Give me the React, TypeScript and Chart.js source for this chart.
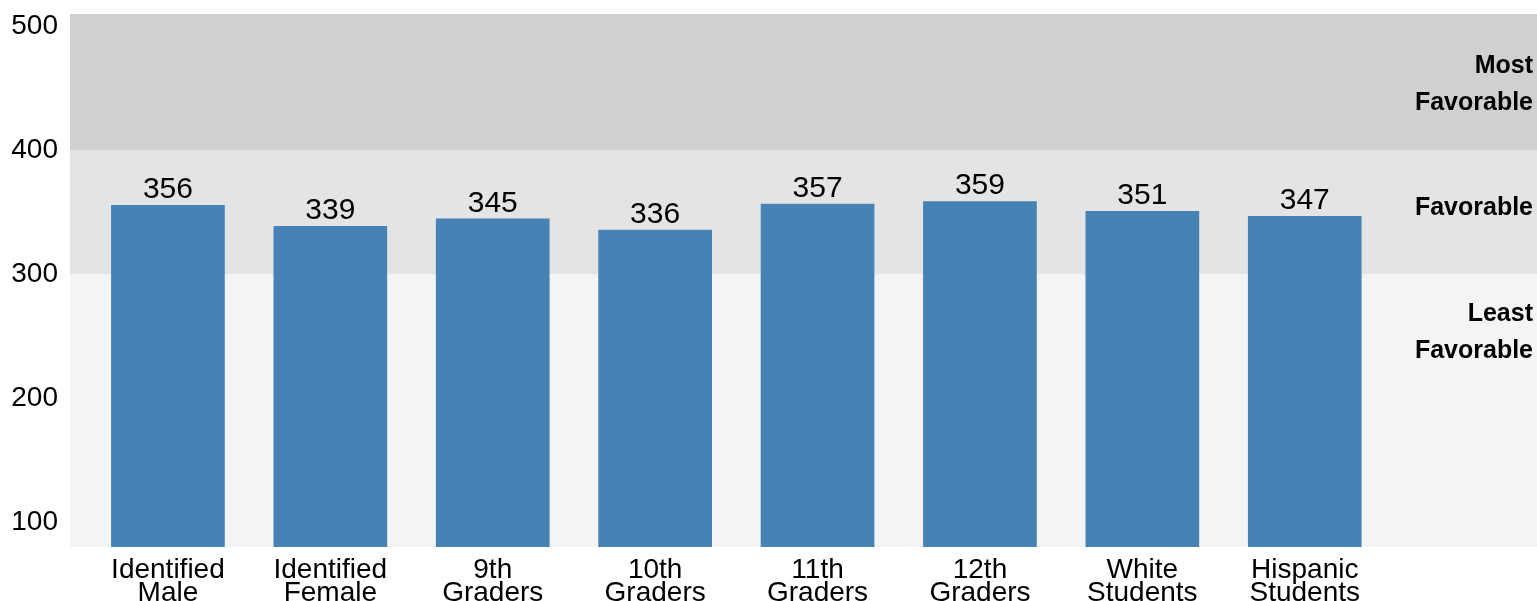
import React, { useEffect, useRef } from "react";
import { Chart, registerables } from "chart.js";

Chart.register(...registerables);

const categories: string[][] = [
  ["Identified", "Male"],
  ["Identified", "Female"],
  ["9th", "Graders"],
  ["10th", "Graders"],
  ["11th", "Graders"],
  ["12th", "Graders"],
  ["White", "Students"],
  ["Hispanic", "Students"],
];
const values: number[] = [356, 339, 345, 336, 357, 359, 351, 347];
const yTicks: number[] = [100, 200, 300, 400, 500];
const yMin = 80;
const yMax = 510;
// x range in category units (leaves a right-hand column for band labels)
const xStart = -0.603;
const xRange = 9.033;

const bandFrom: number[] = [yMin, 300, 400];
const bandTo: number[] = [300, 400, yMax];
const bandColors: string[] = ["#f4f4f4", "#e4e4e4", "#d0d0d0"];
const bandLabels: string[][] = [["Least", "Favorable"], ["Favorable"], ["Most", "Favorable"]];
const bandLabelAt: number[] = [253, 353, 453];

const FONT = "'Liberation Sans', Arial, sans-serif";

const bandsPlugin = {
  id: "bands",
  beforeDatasetsDraw(chart: any) {
    const { ctx, chartArea, scales } = chart;
    const y = scales.y;
    ctx.save();
    for (let i = 0; i < bandFrom.length; i++) {
      const top = y.getPixelForValue(bandTo[i]);
      const bot = y.getPixelForValue(bandFrom[i]);
      ctx.fillStyle = bandColors[i];
      ctx.fillRect(chartArea.left, top, chartArea.right - chartArea.left, bot - top);
    }
    ctx.fillStyle = "#000";
    ctx.font = `bold 25px ${FONT}`;
    ctx.textAlign = "right";
    ctx.textBaseline = "middle";
    const lh = 37;
    for (let i = 0; i < bandLabels.length; i++) {
      const lines = bandLabels[i];
      const cy = y.getPixelForValue(bandLabelAt[i]);
      const start = cy - ((lines.length - 1) * lh) / 2;
      lines.forEach((l, k) => ctx.fillText(l, chartArea.right - 4, start + k * lh));
    }
    ctx.restore();
  },
  afterDatasetsDraw(chart: any) {
    const { ctx } = chart;
    const meta = chart.getDatasetMeta(0);
    ctx.save();
    ctx.fillStyle = "#000";
    ctx.font = `30px ${FONT}`;
    ctx.textAlign = "center";
    ctx.textBaseline = "alphabetic";
    meta.data.forEach((bar: any, i: number) => {
      ctx.fillText(String(values[i]), bar.x, bar.y - 7);
    });
    ctx.restore();
  },
};

export default function App() {
  const ref = useRef<HTMLCanvasElement>(null);
  useEffect(() => {
    document.body.style.margin = "0";
    const chart = new Chart(ref.current!, {
      type: "bar",
      data: {
        labels: categories,
        datasets: [
          {
            data: values,
            backgroundColor: "#4682b4",
            categoryPercentage: 1,
            barPercentage: 0.7,
          },
        ],
      },
      options: {
        animation: false,
        responsive: false,
        maintainAspectRatio: false,
        layout: { padding: { top: 14, right: 0, left: 0, bottom: 0 } },
        plugins: { legend: { display: false }, tooltip: { enabled: false } },
        scales: {
          x: {
            grid: { display: false, drawTicks: false },
            border: { display: false },
            afterBuildTicks(scale: any) {
              scale._startValue = xStart;
              scale._valueRange = xRange;
            },
            ticks: {
              color: "#000",
              font: { family: FONT, size: 28, lineHeight: 0.82 },
              padding: 12,
              maxRotation: 0,
              autoSkip: false,
            },
            afterFit(scale: any) {
              scale.height = 54;
              scale.paddingLeft = 0;
              scale.paddingRight = 0;
            },
          },
          y: {
            min: yMin,
            max: yMax,
            grid: { display: false, drawTicks: false },
            border: { display: false },
            afterBuildTicks(scale: any) {
              scale.ticks = yTicks.map((v) => ({ value: v }));
            },
            ticks: {
              color: "#000",
              font: { family: FONT, size: 28 },
              padding: 12,
            },
            afterFit(scale: any) {
              scale.width = 70;
              scale.paddingTop = 0;
              scale.paddingBottom = 0;
            },
          },
        },
      },
      plugins: [bandsPlugin],
    });
    return () => chart.destroy();
  }, []);
  return <canvas ref={ref} width={1537} height={601} style={{ display: "block" }} />;
}
